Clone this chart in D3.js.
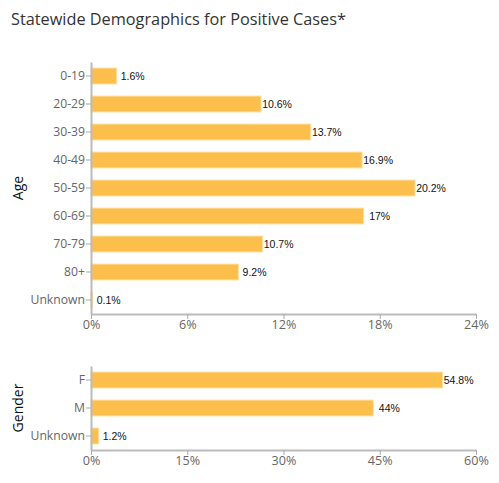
<!DOCTYPE html>
<html>
<head>
<meta charset="utf-8">
<script src="https://cdn.jsdelivr.net/npm/d3@7"></script>
<style>
  body { margin: 0; background: #fff; }
  text { font-family: "Open Sans", "Noto Sans", sans-serif; }
</style>
</head>
<body>
<svg id="chart" width="499" height="483"></svg>
<script>
// age groups
var ageGroups = ["0-19", "20-29", "30-39", "40-49", "50-59", "60-69", "70-79", "80+", "Unknown"];
var agePct = [1.6, 10.6, 13.7, 16.9, 20.2, 17, 10.7, 9.2, 0.1];
var ageTicks = [0, 6, 12, 18, 24];

// gender
var genders = ["F", "M", "Unknown"];
var genderPct = [54.8, 44, 1.2];
var genderTicks = [0, 15, 30, 45, 60];

var svg = d3.select("#chart");
var barColor = "#fdbf4c";

svg.append("text")
  .attr("x", 11)
  .attr("y", 25)
  .style("font-size", "16.3px")
  .style("fill", "#333")
  .text("Statewide Demographics for Positive Cases*");

function drawPanel(cats, vals, ticks, top, bottom, title){
  var x = d3.scaleLinear().domain([0, ticks[ticks.length-1]]).range([91, 476]);
  var y = d3.scaleBand().domain(cats).range([top, bottom])
            .paddingInner(0.43).paddingOuter(0.215);

  var g = svg.append("g");

  // bars
  g.selectAll("rect").data(vals).enter().append("rect")
    .attr("x", x(0))
    .attr("y", (d,i) => y(cats[i]))
    .attr("width", d => x(d) - x(0))
    .attr("height", y.bandwidth())
    .style("fill", barColor)
    .style("stroke", "#fde2a6")
    .style("stroke-width", 1);

  // value labels
  g.selectAll(".val").data(vals).enter().append("text")
    .attr("class", "val")
    .attr("x", d => x(d) + 16)
    .attr("y", (d,i) => y(cats[i]) + y.bandwidth()/2)
    .attr("dy", "0.35em")
    .attr("text-anchor", "middle")
    .style("font-family", "Arial, 'Liberation Sans', sans-serif")
    .style("font-size", "10.5px")
    .style("fill", "#111")
    .text(d => d + "%");

  // y axis
  var yAxis = g.append("g")
    .attr("transform", "translate(" + x(0) + ",0)")
    .call(d3.axisLeft(y).tickSize(5).tickSizeOuter(0));
  yAxis.select(".domain").style("stroke", "#bbb").style("stroke-width", 2);
  yAxis.selectAll(".tick line").style("stroke", "#aaa");
  yAxis.selectAll(".tick text")
    .attr("x", -6)
    .style("font-size", "12.2px")
    .style("fill", "#666")
    .style("font-family", "'Open Sans', sans-serif");

  // x axis
  var xAxis = g.append("g")
    .attr("transform", "translate(0," + bottom + ")")
    .call(d3.axisBottom(x).tickValues(ticks).tickFormat(d => d + "%").tickSize(5).tickSizeOuter(0));
  xAxis.select(".domain").style("stroke", "#bbb").style("stroke-width", 2);
  xAxis.selectAll(".tick line").style("stroke", "#aaa");
  xAxis.selectAll(".tick text")
    .attr("y", 6)
    .style("font-size", "12.6px")
    .style("fill", "#666")
    .style("font-family", "'Open Sans', sans-serif");

  // axis title
  g.append("text")
    .attr("transform", "translate(23," + ((top + bottom)/2) + ") rotate(-90)")
    .attr("text-anchor", "middle")
    .style("font-size", "14px")
    .style("fill", "#111")
    .text(title);
}

drawPanel(ageGroups, agePct, ageTicks, 62, 314, "Age");
drawPanel(genders, genderPct, genderTicks, 366, 450, "Gender");
</script>
</body>
</html>
